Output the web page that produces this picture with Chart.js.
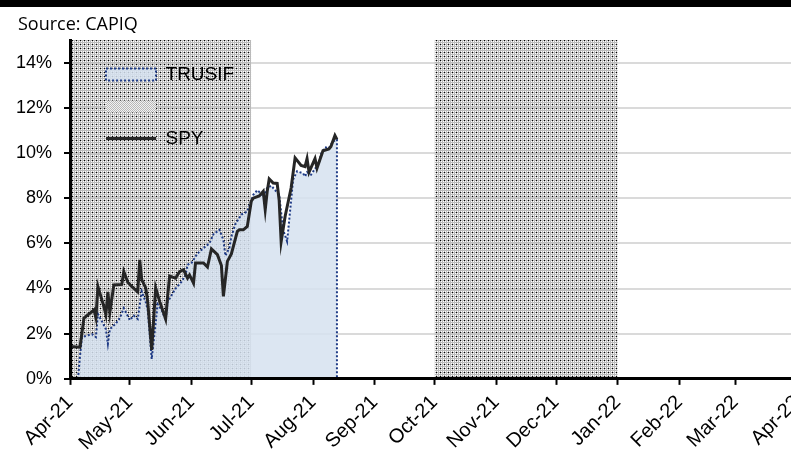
<!DOCTYPE html>
<html>
<head>
<meta charset="utf-8">
<script src="https://cdn.jsdelivr.net/npm/chart.js@4.4.0/dist/chart.umd.min.js"></script>
<style>
html,body{margin:0;padding:0;background:#fff;overflow:hidden;width:791px;height:466px}
#wrap{position:absolute;left:0;top:0;width:820px;height:466px}
#bar{position:absolute;left:0;top:0;width:791px;height:7px;background:#000}
#src{position:absolute;left:18px;top:11px;font:18px "Open Sans",sans-serif;color:#000;white-space:nowrap}
</style>
</head>
<body>
<div id="wrap"><canvas id="chart" width="820" height="466"></canvas></div>
<div id="bar"></div>
<div id="src">Source: CAPIQ</div>
<script>
// month axis
const monthStarts=['2021-04-01','2021-05-01','2021-06-01','2021-07-01','2021-08-01','2021-09-01','2021-10-01','2021-11-01','2021-12-01','2022-01-01','2022-02-01','2022-03-01','2022-04-01'];
const monthLabels=['Apr-21','May-21','Jun-21','Jul-21','Aug-21','Sep-21','Oct-21','Nov-21','Dec-21','Jan-22','Feb-22','Mar-22','Apr-22'];
const yTicks=[0,2,4,6,8,10,12,14];
const yMax=15;

// shaded periods
const shadeFrom=['2021-04-01','2021-10-01'];
const shadeTo=['2021-07-01','2022-01-01'];

// TRUSIF (area), % return
const trusifDates=['2021-04-05','2021-04-06','2021-04-07','2021-04-12','2021-04-14','2021-04-15','2021-04-17','2021-04-19','2021-04-20','2021-04-21',
'2021-04-24','2021-04-26','2021-04-28','2021-05-01','2021-05-03','2021-05-05','2021-05-07','2021-05-09','2021-05-10','2021-05-12',
'2021-05-15','2021-05-17','2021-05-19','2021-05-20','2021-05-24','2021-05-27','2021-05-29','2021-05-30','2021-06-01','2021-06-04',
'2021-06-07','2021-06-10','2021-06-12','2021-06-15','2021-06-17','2021-06-18','2021-06-20','2021-06-21','2021-06-23','2021-06-26',
'2021-06-29','2021-07-02','2021-07-04','2021-07-06','2021-07-07','2021-07-09','2021-07-11','2021-07-15','2021-07-17','2021-07-19',
'2021-07-21','2021-07-22','2021-07-24','2021-07-27','2021-07-28','2021-07-29','2021-07-31','2021-08-02','2021-08-04','2021-08-05',
'2021-08-07','2021-08-09','2021-08-11','2021-08-13','2021-08-13'];
const trusifValues=[0,1.0,1.85,1.98,1.85,2.87,2.55,2.2,1.55,2.2,
2.45,2.69,3.13,2.6,2.8,2.65,3.87,3.4,3.06,0.88,
3.3,3.05,2.6,3.4,4.0,4.3,4.6,5.05,5.13,5.55,
5.79,6.0,6.4,6.6,6.15,5.45,5.8,6.3,6.85,7.27,
7.41,8.15,8.35,8.2,8.05,8.45,8.55,8.15,6.6,6.08,
7.9,8.82,9.19,9.1,8.96,9.15,9.04,9.3,9.56,9.95,
10.25,10.22,10.51,10.6,0];

// SPY (line), % return
const spyDates=['2021-04-01','2021-04-06','2021-04-08','2021-04-12','2021-04-13','2021-04-14','2021-04-15','2021-04-18','2021-04-19','2021-04-20',
'2021-04-21','2021-04-23','2021-04-27','2021-04-28','2021-04-30','2021-05-02','2021-05-05','2021-05-06','2021-05-07','2021-05-09',
'2021-05-10','2021-05-12','2021-05-14','2021-05-16','2021-05-19','2021-05-20','2021-05-21','2021-05-24','2021-05-26','2021-05-28',
'2021-05-30','2021-05-31','2021-06-02','2021-06-03','2021-06-07','2021-06-09','2021-06-11','2021-06-14','2021-06-16','2021-06-17',
'2021-06-19','2021-06-21','2021-06-24','2021-06-25','2021-06-27','2021-06-29','2021-07-01','2021-07-02','2021-07-05','2021-07-07',
'2021-07-08','2021-07-09','2021-07-10','2021-07-12','2021-07-14','2021-07-15','2021-07-16','2021-07-18','2021-07-21','2021-07-23',
'2021-07-26','2021-07-28','2021-07-29','2021-07-30','2021-08-02','2021-08-03','2021-08-06','2021-08-09','2021-08-10','2021-08-12',
'2021-08-13'];
const spyValues=[1.43,1.40,2.69,2.98,3.06,2.70,4.09,3.2,2.84,3.85,
2.95,4.16,4.18,4.75,4.28,4.09,3.85,5.27,4.39,4.03,
3.43,1.28,4.03,3.43,2.65,3.65,4.55,4.46,4.75,4.83,
4.46,4.60,4.24,5.13,5.13,4.95,5.75,5.50,5.02,3.65,
5.20,5.53,6.53,6.60,6.60,6.75,7.86,8.00,8.10,8.30,
7.49,8.30,8.85,8.67,8.65,7.90,6.08,7.20,8.45,9.78,
9.45,9.40,9.75,9.15,9.75,9.33,10.10,10.18,10.29,10.77,
10.60];

const base=Date.UTC(2021,3,1);
function dayNum(s){
  const p=s.split('-');
  return (Date.UTC(+p[0],p[1]-1,+p[2])-base)/864e5;
}
function toPoints(dates,vals){
  return dates.map((d,i)=>({x:dayNum(d),y:vals[i]}));
}

const shadeData=[];
shadeFrom.forEach((d,i)=>{
  if(i>0) shadeData.push({x:(dayNum(shadeTo[i-1])+dayNum(d))/2,y:null});
  shadeData.push({x:dayNum(d),y:yMax},{x:dayNum(shadeTo[i]),y:yMax});
});

const canvas=document.getElementById('chart');
const ctx=canvas.getContext('2d');

// grid-dot pattern for the shaded periods
function makePattern(size,paint){
  const t=document.createElement('canvas');
  t.width=size;t.height=size;
  const c=t.getContext('2d');
  for(let y=0;y<size;y++){
    for(let x=0;x<size;x++){
      const col=paint(x,y);
      if(col){c.fillStyle=col;c.fillRect(x,y,1,1);}
    }
  }
  return ctx.createPattern(t,'repeat');
}
const hatch=makePattern(4,(x,y)=>{
  if(x%2===1&&y%2===1) return null;
  return (x===0&&y===0)?'#000':'#bababa';
});
// lighter texture used only for the legend swatch
const legendHatch=makePattern(2,(x,y)=>((x+y)%2===0)?'#b8b8b8':'#f2f2f2');

const FONT='"Liberation Sans", Arial, sans-serif';

// legend drawn over the datasets, placed inside the plot
const legendOnTop={
  id:'legendOnTop',
  beforeLayout(chart){
    const lg=chart.legend;
    if(lg&&!lg._onTop){
      lg._layers=()=>[{z:1,draw:(ca)=>lg.draw(ca)}];
      lg._onTop=true;
    }
  },
  beforeDraw(chart){
    const lg=chart.legend,a=chart.chartArea;
    lg.left=a.left+23;
    lg.top=a.top+12;
  }
};

new Chart(ctx,{
  type:'line',
  data:{
    datasets:[
      {
        label:'TRUSIF',
        data:toPoints(trusifDates,trusifValues),
        borderColor:'#1f3b87',
        borderWidth:2,
        borderDash:[2,2],
        backgroundColor:'rgba(214,226,240,0.85)',
        fill:'origin',
        pointRadius:0,
        pointStyle:'rect',
        tension:0,
        order:2
      },
      {
        label:'',
        data:shadeData,
        borderColor:'rgba(0,0,0,0)',
        borderWidth:0,
        backgroundColor:hatch,
        fill:'origin',
        spanGaps:false,
        pointRadius:0,
        pointStyle:'rect',
        order:3
      },
      {
        label:'SPY',
        data:toPoints(spyDates,spyValues),
        borderColor:'#262626',
        borderWidth:3,
        fill:false,
        pointRadius:0,
        pointStyle:'line',
        tension:0,
        order:1
      }
    ]
  },
  options:{
    responsive:false,
    animation:false,
    layout:{padding:{left:4,top:40,right:0,bottom:5}},
    scales:{
      x:{
        type:'linear',
        min:0,
        max:dayNum('2022-04-01'),
        afterBuildTicks:(s)=>{s.ticks=monthStarts.map(d=>({value:dayNum(d)}));},
        ticks:{
          callback:(v,i)=>monthLabels[i],
          autoSkip:false,
          minRotation:45,
          maxRotation:45,
          padding:6,
          color:'#000',
          font:{family:FONT,size:20}
        },
        grid:{drawOnChartArea:false,tickLength:6,tickColor:'#000',tickWidth:2},
        border:{color:'#000',width:3,z:1}
      },
      y:{
        min:0,
        max:yMax,
        afterBuildTicks:(s)=>{s.ticks=yTicks.map(v=>({value:v}));},
        ticks:{
          callback:(v)=>v+'%',
          padding:12,
          color:'#000',
          font:{family:FONT,size:18}
        },
        grid:{color:'#dadada',lineWidth:2,tickLength:6,tickColor:'#000',tickWidth:2},
        border:{color:'#000',width:3,z:1}
      }
    },
    plugins:{
      legend:{
        position:'chartArea',
        align:'start',
        labels:{
          usePointStyle:true,
          pointStyleWidth:50,
          boxHeight:12,
          padding:13,
          color:'#000',
          font:{family:FONT,size:19},
          sort:(a,b)=>a.datasetIndex-b.datasetIndex,
          generateLabels:(chart)=>{
            const items=Chart.defaults.plugins.legend.labels.generateLabels(chart);
            items.forEach(it=>{
              const ds=chart.data.datasets[it.datasetIndex];
              it.lineDash=ds.borderDash||[];
              it.lineWidth=ds.borderWidth;
              if(ds.backgroundColor===hatch) it.fillStyle=legendHatch;
            });
            return items;
          }
        }
      },
      tooltip:{enabled:false}
    }
  },
  plugins:[legendOnTop]
});
</script>
</body>
</html>
